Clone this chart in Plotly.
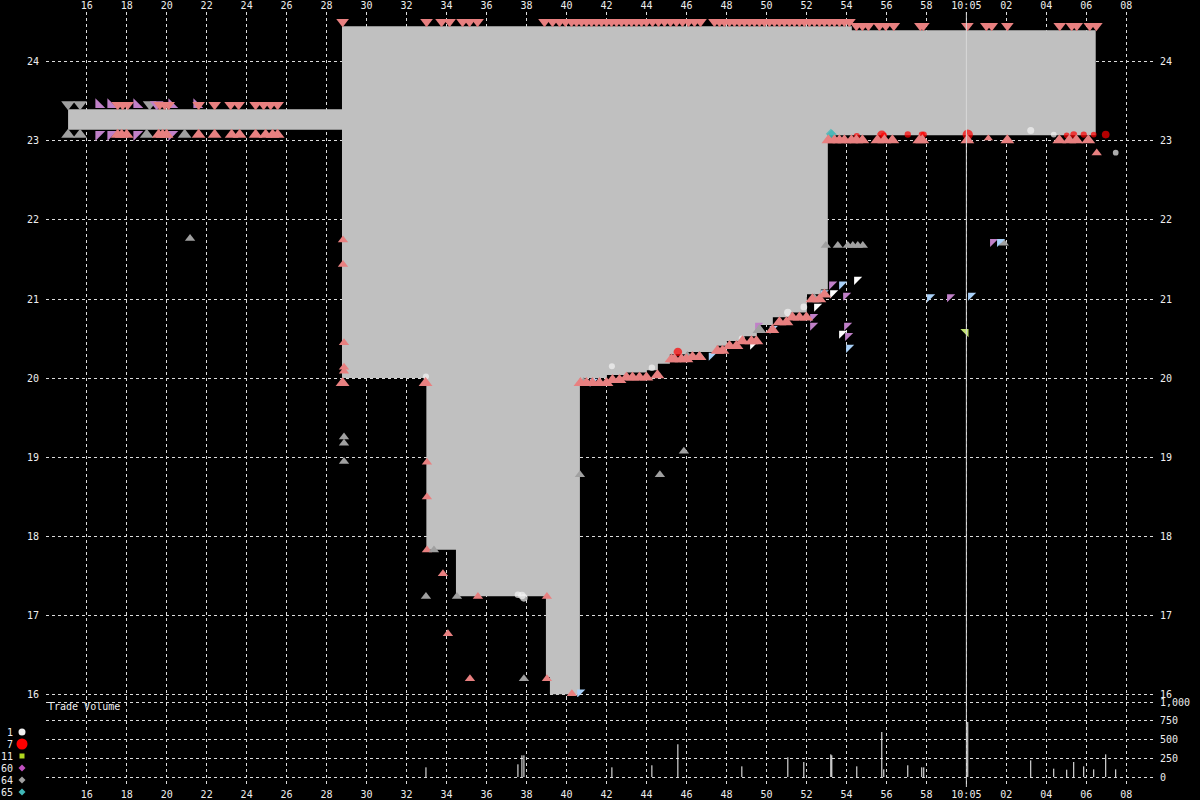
import numpy as np
import plotly.graph_objects as go

# ---------------- data (time = minutes after 9:00) ----------------
quote_time = [15.07, 28.77, 32.99, 34.47, 38.97, 39.17, 40.67, 42.02, 43.0, 44.02, 44.57, 45.17,
              46.02, 47.52, 48.02, 48.8, 49.52, 50.32, 51.2, 52.02, 52.72, 53.07, 54.27, 66.47]
best_bid = [23.14, 20.00, 17.83, 17.24, 16.22, 16.00, 20.00, 20.04, 20.07, 20.10, 20.18, 20.30,
            20.33, 20.41, 20.47, 20.53, 20.67, 20.77, 20.83, 21.06, 21.12, 23.07, 23.07, 23.07]
best_ask = [23.40, 24.45, 24.45, 24.45, 24.45, 24.45, 24.45, 24.45, 24.45, 24.45, 24.45, 24.45,
            24.45, 24.45, 24.45, 24.45, 24.45, 24.45, 24.45, 24.45, 24.45, 24.45, 24.40, 24.40]

# quotes sitting on the best bid / ask (price looked up from the quote arrays)
salmon_bid_times = [17.55, 17.75, 18.0, 19.6, 19.8, 20.0, 21.6, 22.4, 23.25, 23.65, 24.45, 24.95,
                    25.3, 25.55, 28.8, 32.95, 40.7, 41.0, 41.3, 41.65, 42.0, 42.3, 42.65, 43.0,
                    43.3, 43.65, 44.0, 44.55, 45.25, 45.4, 45.75, 46.0, 46.3, 46.65, 47.55, 47.8,
                    48.15, 48.5, 48.8, 49.25, 49.5, 50.3, 50.65, 51.0, 51.3, 51.65, 52.0, 52.3,
                    52.65, 52.9, 53.1, 53.4, 53.65, 53.9, 54.25, 54.5, 54.8, 55.55, 55.9, 56.3,
                    57.65, 57.8, 60.05, 62.05, 64.65, 65.15, 65.5, 66.1]
salmon_ask_times = [17.55, 17.8, 18.05, 19.65, 19.9, 20.1, 21.6, 22.4, 23.2, 23.6, 24.45, 24.85,
                    25.2, 25.55, 28.8, 33.0, 33.75, 34.15, 34.8, 35.15, 35.55, 38.9, 39.3, 39.65,
                    39.95, 40.25, 40.5, 40.75, 41.0, 41.25, 41.5, 41.75, 42.0, 42.25, 42.5, 42.75,
                    43.0, 43.25, 43.5, 43.75, 44.0, 44.3, 44.6, 44.9, 45.2, 45.5, 45.8, 46.1, 46.4,
                    46.7, 47.4, 47.65, 47.9, 48.15, 48.4, 48.65, 48.9, 49.15, 49.4, 49.65, 49.9,
                    50.15, 50.4, 50.65, 50.9, 51.15, 51.4, 51.65, 51.9, 52.15, 52.4, 52.65, 52.9,
                    53.15, 53.4, 53.65, 53.9, 54.15, 54.5, 54.8, 55.1, 55.65, 55.97, 56.37, 57.7,
                    57.85, 60.05, 61.0, 61.27, 62.05, 64.67, 65.27, 65.52, 66.17, 66.5]
gray_bid_times = [15.07, 15.67, 19.0, 20.9, 40.85, 46.05, 46.65, 49.65, 52.4]
gray_ask_times = [15.07, 15.67, 19.15]
purple_ask_times = [19.5]
purple_half_ask_times = [16.6, 17.2, 18.5, 20.25, 21.5]
purple_half_bid_times = [16.6, 17.2, 18.5, 20.25]
blue_half_bid_times = [41.3, 47.25, 50.3, 52.85]
small_bid_times = [61.1]

# quotes away from the inside market: time, price
salmon_off_t = [28.82, 28.82, 28.87, 28.87, 28.87, 33.02, 33.02, 33.02, 33.82, 34.07, 35.57,
                39.02, 35.17, 39.02, 40.27, 66.52]
salmon_off_p = [21.79, 21.48, 20.49, 20.18, 20.13, 18.98, 18.54, 17.87, 17.57, 16.81, 17.28,
                17.28, 16.24, 16.24, 16.05, 22.89]
gray_off_t = [21.17, 28.87, 28.87, 28.87, 33.37, 32.97, 34.52, 37.87, 40.67, 44.67, 45.87,
              52.97, 53.57, 54.07, 54.32, 54.57, 54.82, 61.87]
gray_off_p = [21.81, 19.30, 19.22, 18.99, 17.87, 17.28, 17.28, 16.24, 18.82, 18.82, 19.12,
              21.72, 21.72, 21.72, 21.72, 21.72, 21.72, 21.75]
purple_nw_t = [53.27, 53.97, 59.17, 61.32, 52.32, 54.02, 54.07, 52.32, 49.57]
purple_nw_p = [21.23, 21.09, 21.07, 21.77, 20.71, 20.71, 20.58, 20.82, 20.71]
blue_nw_t = [53.77, 58.17, 60.22, 61.67, 54.12, 40.67]
blue_nw_p = [21.23, 21.07, 21.09, 21.77, 20.43, 16.07]
white_nw_t = [54.52, 53.32, 53.77, 49.32, 52.52]
white_nw_p = [21.29, 21.12, 20.61, 20.47, 20.95]
green_ne_t = [59.97]
green_ne_p = [20.63]

# trades
trade_time = [32.97, 37.57, 37.77, 37.87, 42.27, 44.27, 45.57, 48.77, 51.07, 51.87, 53.22, 53.27,
              54.52, 55.77, 55.87, 57.07, 57.77, 57.87, 60.07, 63.22, 64.37, 65.02, 65.37, 65.87,
              66.37, 66.97, 67.47]
trade_price = [20.02, 17.26, 17.25, 17.22, 20.15, 20.13, 20.33, 20.50, 20.83, 20.90, 23.09, 23.08,
               23.06, 23.07, 23.07, 23.08, 23.08, 23.08, 23.08, 23.13, 23.08, 23.07, 23.08, 23.08,
               23.08, 23.08, 22.85]
trade_volume = [129, 169, 289, 289, 129, 156, 436, 142, 262, 200, 302, 289, 142, 600, 102, 156,
                129, 129, 733, 222, 111, 98, 200, 142, 102, 302, 102]
trade_exch = [1, 1, 1, 1, 1, 1, 7, 1, 1, 1, 65, 65, 7, 7, 7, 7, 7, 7, 7, 1, 1, 7, 7, 7, 7, 7, 1]

legend_codes = ["1", "7", "11", "60", "64", "65"]
legend_colors = ["#f0f0f0", "#ff0000", "#b0d820", "#c050c0", "#a0a0a0", "#40b8b8"]
legend_shapes = ["circle", "circle", "square", "diamond", "diamond", "diamond"]
legend_sizes = [7, 11, 5, 7, 7, 7]

x_tickvals = list(range(16, 70, 2))
x_ticktext = ["16", "18", "20", "22", "24", "26", "28", "30", "32", "34", "36", "38", "40", "42",
              "44", "46", "48", "50", "52", "54", "56", "58", "10:05", "02", "04", "06", "08"]
price_ticks = [16, 17, 18, 19, 20, 21, 22, 23, 24]
vol_ticks = [0, 250, 500, 750, 1000]
vol_ticktext = ["0", "250", "500", "750", "1,000"]
hour_mark = 60

# ---------------- layout geometry ----------------
W, H = 1200, 800
PX_L, PX_R = 46, 1153
PY_TOP, PY_SPLIT, PY_BOT = 12, 697, 787
X_RANGE = [13.965, 69.335]
P_RANGE = [15.966, 24.630]
V_RANGE = [-133.3, 1066.7]
ppu = (PY_SPLIT - PY_TOP) / (P_RANGE[1] - P_RANGE[0])  # pixels per price unit

SALMON = "#e88080"
GRAY = "#a0a0a0"
PURPLE = "#c080c8"
BLUE = "#a8d0f8"
WHITE = "#ffffff"
GREEN = "#c0e070"
FONT = dict(family="DejaVu Sans Mono", size=10, color="#eeeeee")
GRID = "#dcdcdc"

qt = np.array(quote_time)


def nbbo(t):
    i = int(np.searchsorted(qt, t, side="right")) - 1
    i = max(i, 0)
    return best_bid[i], best_ask[i]


def shifted(prices, size, direction):
    # direction -1: marker hangs below the price, +1: marker sits above
    return [p + direction * (size / 2 - 1) / ppu for p in prices]


fig = go.Figure()

# spread fill
fig.add_trace(go.Scatter(x=quote_time, y=best_ask, mode="lines", line=dict(width=0, shape="hv"),
                         hoverinfo="skip", showlegend=False))
fig.add_trace(go.Scatter(x=quote_time, y=best_bid, mode="lines", line=dict(width=0, shape="hv"),
                         fill="tonexty", fillcolor="#c0c0c0", hoverinfo="skip", showlegend=False))


def add_markers(times, prices, color, symbol, size, direction):
    fig.add_trace(go.Scatter(x=times, y=shifted(prices, size, direction), mode="markers",
                             marker=dict(symbol=symbol, size=size, color=color, line=dict(width=0)),
                             showlegend=False, hoverinfo="skip"))


def bids(ts):
    return [nbbo(t)[0] for t in ts]


def asks(ts):
    return [nbbo(t)[1] for t in ts]


# trades (drawn under quote markers)
trade_color_map = {1: "#f4f4f4", 7: "#ff0000", 65: "#40b8b8"}
trade_symbol_map = {1: "circle", 7: "circle", 65: "diamond"}
fig.add_trace(go.Scatter(
    x=trade_time, y=trade_price, mode="markers",
    marker=dict(color=[trade_color_map[e] for e in trade_exch],
                symbol=[trade_symbol_map[e] for e in trade_exch],
                size=[3 + 0.27 * np.sqrt(v) for v in trade_volume], line=dict(width=0)),
    showlegend=False, hoverinfo="skip"))

# off-market quotes
add_markers(salmon_off_t, salmon_off_p, SALMON, "triangle-up", 9, -1)
add_markers(gray_off_t, gray_off_p, GRAY, "triangle-up", 9, -1)
add_markers(purple_nw_t, purple_nw_p, PURPLE, "triangle-nw", 9, -1)
add_markers(blue_nw_t, blue_nw_p, BLUE, "triangle-nw", 9, -1)
add_markers(white_nw_t, white_nw_p, WHITE, "triangle-nw", 9, -1)
add_markers(green_ne_t, green_ne_p, GREEN, "triangle-ne", 9, -1)

# inside-market quotes
add_markers(gray_bid_times, bids(gray_bid_times), GRAY, "triangle-up", 12, -1)
add_markers(gray_ask_times, asks(gray_ask_times), GRAY, "triangle-down", 12, 1)
add_markers(purple_half_bid_times, bids(purple_half_bid_times), PURPLE, "triangle-nw", 11, -1)
add_markers(purple_half_ask_times, asks(purple_half_ask_times), PURPLE, "triangle-sw", 11, 1)
add_markers(purple_ask_times, asks(purple_ask_times), PURPLE, "triangle-down", 12, 1)
add_markers(blue_half_bid_times, bids(blue_half_bid_times), BLUE, "triangle-nw", 9, -1)
add_markers(salmon_bid_times, bids(salmon_bid_times), SALMON, "triangle-up", 12, -1)
add_markers(small_bid_times, bids(small_bid_times), SALMON, "triangle-up", 8, -1)
add_markers(salmon_ask_times, asks(salmon_ask_times), SALMON, "triangle-down", 11, 1)

# volume bars
vx, vy = [], []
for t, v in zip(trade_time, trade_volume):
    vx += [t, t, None]
    vy += [0, v, None]
fig.add_trace(go.Scatter(x=vx, y=vy, mode="lines", line=dict(color="#ffffff", width=1),
                         xaxis="x", yaxis="y2", showlegend=False, hoverinfo="skip"))

# dummy traces so the mirrored axes get drawn
fig.add_trace(go.Scatter(x=[X_RANGE[0]], y=[P_RANGE[0]], xaxis="x2", yaxis="y", mode="markers",
                         marker=dict(opacity=0), showlegend=False, hoverinfo="skip"))
fig.add_trace(go.Scatter(x=[X_RANGE[0]], y=[P_RANGE[0]], xaxis="x", yaxis="y3", mode="markers",
                         marker=dict(opacity=0), showlegend=False, hoverinfo="skip"))

# legend of trade exchanges (left margin) drawn as text + shapes
leg_y = [732, 744, 756, 768, 780, 792]
leg_x = 22
annotations = []
shapes = []
for code, yy, col, shp, sz in zip(legend_codes, leg_y, legend_colors, legend_shapes, legend_sizes):
    annotations.append(dict(x=15 / W, y=1 - yy / H, xref="paper", yref="paper", text=code,
                            showarrow=False, xanchor="right", yanchor="middle", font=FONT))
    r = sz / 2
    if shp == "circle":
        shapes.append(dict(type="circle", xref="paper", yref="paper",
                           x0=(leg_x - r) / W, x1=(leg_x + r) / W,
                           y0=1 - (yy + r) / H, y1=1 - (yy - r) / H,
                           fillcolor=col, line=dict(width=0)))
    elif shp == "square":
        shapes.append(dict(type="rect", xref="paper", yref="paper",
                           x0=(leg_x - r) / W, x1=(leg_x + r) / W,
                           y0=1 - (yy + r) / H, y1=1 - (yy - r) / H,
                           fillcolor=col, line=dict(width=0)))
    else:
        pts = [(leg_x, yy - r), (leg_x + r, yy), (leg_x, yy + r), (leg_x - r, yy)]
        path = "M " + " L ".join(f"{px / W:.5f},{1 - py / H:.5f}" for px, py in pts) + " Z"
        shapes.append(dict(type="path", xref="paper", yref="paper", path=path,
                           fillcolor=col, line=dict(width=0)))
annotations.append(dict(x=PX_L / W, y=1 - 706 / H, xref="paper", yref="paper", text="Trade Volume",
                        showarrow=False, xanchor="left", yanchor="middle", font=FONT))
shapes.append(dict(type="line", xref="x", yref="paper", x0=hour_mark, x1=hour_mark,
                   y0=1 - PY_BOT / H, y1=1 - PY_TOP / H, line=dict(color="#d8d8d8", width=1)))

xdom = [PX_L / W, PX_R / W]
ydom_p = [1 - PY_SPLIT / H, 1 - PY_TOP / H]
ydom_v = [1 - PY_BOT / H, 1 - PY_SPLIT / H]

common = dict(showline=False, zeroline=False, tickfont=FONT, automargin=False)
xticks = dict(ticks="")
yticks = dict(ticks="outside", ticklen=4, tickcolor="rgba(0,0,0,0)")
grid = dict(showgrid=True, gridcolor=GRID, griddash="3px,3px", gridwidth=1)

fig.update_layout(
    width=W, height=H, template="none",
    paper_bgcolor="black", plot_bgcolor="rgba(0,0,0,0)",
    margin=dict(l=0, r=0, t=0, b=0, pad=0),
    showlegend=False,
    xaxis=dict(domain=xdom, range=X_RANGE, anchor="y2", side="bottom", tickvals=x_tickvals,
               ticktext=x_ticktext, **grid, **common, **xticks),
    xaxis2=dict(overlaying="x", range=X_RANGE, anchor="y", side="top", tickvals=x_tickvals,
                ticktext=x_ticktext, showgrid=False, **common, **xticks),
    yaxis=dict(domain=ydom_p, range=P_RANGE, anchor="x", side="left", tickvals=price_ticks,
               **grid, **common, **yticks),
    yaxis3=dict(overlaying="y", range=P_RANGE, anchor="x", side="right", tickvals=price_ticks,
                showgrid=False, **common, **yticks),
    yaxis2=dict(domain=ydom_v, range=V_RANGE, anchor="x", side="right", tickvals=vol_ticks,
                ticktext=vol_ticktext, **grid, **common, **yticks),
    shapes=shapes,
    annotations=annotations,
)

fig.write_html("out.html")
